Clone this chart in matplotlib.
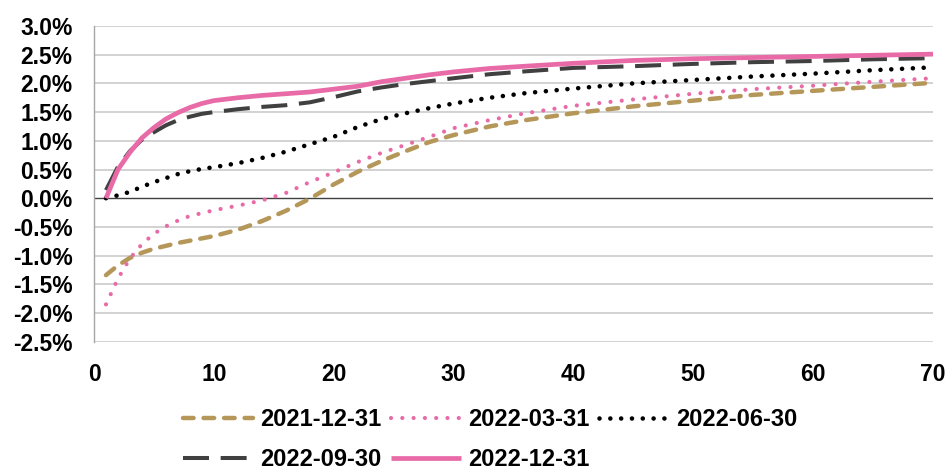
import matplotlib
matplotlib.use("Agg")
import matplotlib.pyplot as plt

plt.rcParams['font.family'] = ['Liberation Sans', 'DejaVu Sans']
plt.rcParams['font.weight'] = 'bold'

maturity = [1, 2, 3, 4, 5, 6, 7, 8, 9, 10, 12, 14, 16, 18, 20, 22, 24, 26, 28, 30,
            33, 36, 40, 45, 50, 55, 60, 65, 70]

y_2021_12 = [-1.34, -1.17, -1.04, -0.95, -0.88, -0.83, -0.78, -0.74, -0.70, -0.66,
             -0.55, -0.40, -0.22, -0.01, 0.24, 0.46, 0.65, 0.82, 0.98, 1.10,
             1.25, 1.36, 1.48, 1.60, 1.70, 1.80, 1.87, 1.94, 2.01]
y_2022_03 = [-1.85, -1.40, -1.05, -0.80, -0.62, -0.49, -0.39, -0.31, -0.26, -0.21,
             -0.13, -0.04, 0.09, 0.28, 0.45, 0.63, 0.79, 0.93, 1.07, 1.22,
             1.36, 1.48, 1.61, 1.72, 1.82, 1.90, 1.96, 2.03, 2.09]
y_2022_06 = [0.00, 0.05, 0.11, 0.20, 0.28, 0.35, 0.42, 0.47, 0.51, 0.54,
             0.61, 0.70, 0.81, 0.94, 1.07, 1.24, 1.38, 1.48, 1.57, 1.65,
             1.75, 1.83, 1.91, 2.00, 2.06, 2.12, 2.17, 2.23, 2.28]
y_2022_09 = [0.14, 0.55, 0.82, 1.02, 1.15, 1.27, 1.36, 1.42, 1.47, 1.50,
             1.55, 1.59, 1.62, 1.67, 1.76, 1.86, 1.93, 1.99, 2.04, 2.09,
             2.16, 2.21, 2.27, 2.30, 2.34, 2.37, 2.39, 2.42, 2.44]
y_2022_12 = [0.00, 0.50, 0.80, 1.05, 1.23, 1.38, 1.49, 1.58, 1.65, 1.70,
             1.75, 1.79, 1.82, 1.85, 1.90, 1.95, 2.03, 2.09, 2.15, 2.20,
             2.26, 2.30, 2.35, 2.40, 2.43, 2.45, 2.47, 2.49, 2.51]

labels = ['2021-12-31', '2022-03-31', '2022-06-30', '2022-09-30', '2022-12-31']
x_ticks = [0, 10, 20, 30, 40, 50, 60, 70]
y_ticks = [3.0, 2.5, 2.0, 1.5, 1.0, 0.5, 0.0, -0.5, -1.0, -1.5, -2.0, -2.5]

fig = plt.figure(figsize=(9.47, 4.73), dpi=100)
ax = fig.add_axes([94/947, 1-341.7/473, (933-94)/947, (341.7-26)/473])

# gridlines
for v in y_ticks:
    if v == 0:
        ax.axhline(v, color='#404040', lw=1.0, zorder=1)
    else:
        ax.axhline(v, color='#C6C6C6', lw=1.1, zorder=0)

gold = '#B5975A'
pink = '#E86BA8'
gray = '#404040'

h = []
h += ax.plot(maturity, y_2021_12, color=gold, lw=3.2, dashes=(2.38, 2.24),
             dash_capstyle='round', label=labels[0], zorder=3, clip_on=False)
h += ax.plot(maturity, y_2022_03, color=pink, lw=3.0, dashes=(0.01, 2.7),
             dash_capstyle='round', label=labels[1], zorder=3, clip_on=False)
h += ax.plot(maturity, y_2022_06, color='black', lw=3.3, dashes=(0.01, 2.35),
             dash_capstyle='round', label=labels[2], zorder=3, clip_on=False)
h += ax.plot(maturity, y_2022_09, color=gray, lw=2.9, dashes=(6.45, 2.9),
             dash_capstyle='butt', label=labels[3], zorder=4, clip_on=False)
h += ax.plot(maturity, y_2022_12, color=pink, lw=3.4, solid_capstyle='butt',
             label=labels[4], zorder=5, clip_on=False)

ax.set_xlim(0, 70)
ax.set_ylim(-2.5, 3.0)
ax.set_xticks(x_ticks)
ax.set_xticklabels([str(t) for t in x_ticks], fontsize=16.5, fontweight='bold')
ax.set_yticks(y_ticks)
ax.set_yticklabels([f"{v:.1f}%" for v in y_ticks], fontsize=16.5, fontweight='bold')
ax.tick_params(axis='both', length=0)
ax.tick_params(axis='y', pad=15.5)
ax.tick_params(axis='x', pad=15)

for s in ['top', 'right', 'bottom']:
    ax.spines[s].set_visible(False)
ax.spines['left'].set_color('#A6A6A6')
ax.spines['left'].set_linewidth(1.0)

# row-major legend order for 3 columns
order = [0, 3, 1, 4, 2]
leg = fig.legend([h[i] for i in order], [labels[i] for i in order],
                 loc='upper left', bbox_to_anchor=(183/947, 1-408/473),
                 ncol=3, frameon=False, handlelength=2.97,
                 handletextpad=0.3, columnspacing=0.4, labelspacing=0.72,
                 borderpad=0, borderaxespad=0,
                 prop={'weight': 'bold', 'size': 17})

fig.savefig('out.png', dpi=100)
